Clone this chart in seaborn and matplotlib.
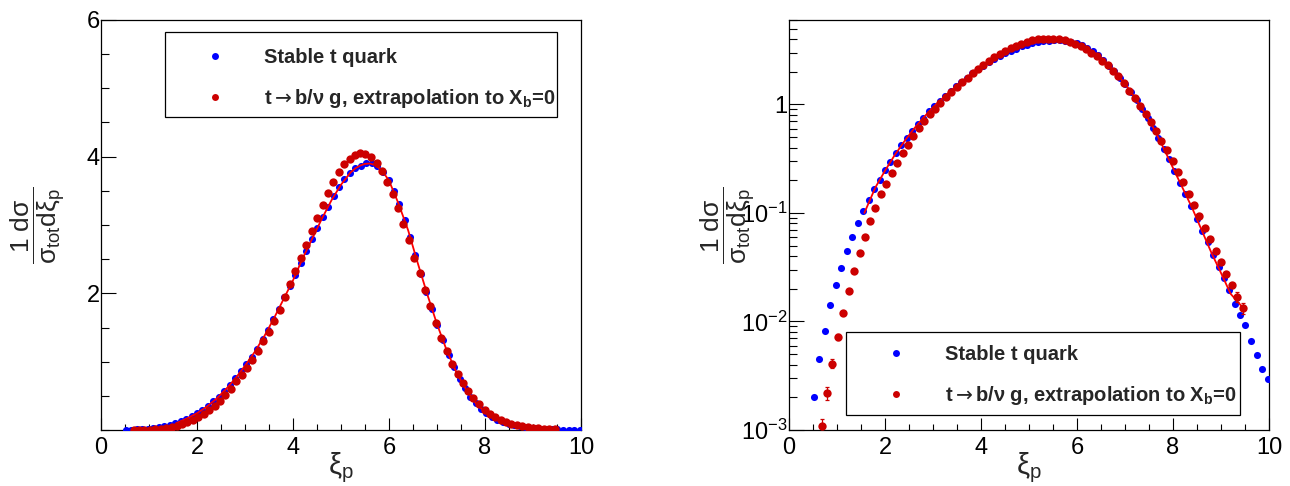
import numpy as np
import matplotlib
matplotlib.use("Agg")
import matplotlib.pyplot as plt
from matplotlib.ticker import MultipleLocator, FixedLocator, FixedFormatter, NullFormatter
from matplotlib.lines import Line2D
from matplotlib.patches import Rectangle
import seaborn as sns

# ---------------- data ----------------
stable_x = [0.52, 0.63, 0.75, 0.86, 0.98, 1.09, 1.20, 1.32, 1.43, 1.54,
            1.66, 1.77, 1.89, 2.00, 2.11, 2.23, 2.34, 2.46, 2.57, 2.68,
            2.80, 2.91, 3.03, 3.14, 3.25, 3.37, 3.48, 3.59, 3.71, 3.82,
            3.94, 4.05, 4.16, 4.28, 4.39, 4.51, 4.62, 4.73, 4.85, 4.96,
            5.07, 5.19, 5.30, 5.42, 5.53, 5.64, 5.76, 5.87, 5.99, 6.10,
            6.21, 6.33, 6.44, 6.55, 6.67, 6.78, 6.90, 7.01, 7.12, 7.24,
            7.35, 7.47, 7.58, 7.69, 7.81, 7.92, 8.03, 8.15, 8.26, 8.38,
            8.49, 8.60, 8.72, 8.83, 8.95, 9.06, 9.17, 9.29, 9.40, 9.51,
            9.63, 9.74, 9.86, 9.97]
stable_y = [0.0020, 0.0045, 0.0081, 0.0143, 0.0218, 0.0311, 0.0447, 0.0605, 0.0800, 0.1045,
            0.133, 0.167, 0.203, 0.248, 0.298, 0.354, 0.419, 0.490, 0.573, 0.660,
            0.755, 0.864, 0.96, 1.07, 1.19, 1.33, 1.47, 1.62, 1.77, 1.94,
            2.11, 2.27, 2.45, 2.62, 2.79, 2.95, 3.12, 3.27, 3.42, 3.55,
            3.67, 3.76, 3.83, 3.87, 3.90, 3.90, 3.86, 3.78, 3.66, 3.50,
            3.30, 3.08, 2.83, 2.56, 2.28, 2.02, 1.77, 1.53, 1.31, 1.10,
            0.915, 0.75, 0.61, 0.486, 0.391, 0.311, 0.243, 0.190, 0.148, 0.115,
            0.0887, 0.0688, 0.0537, 0.0413, 0.0318, 0.0251, 0.0196, 0.0145, 0.0114, 0.0092,
            0.0066, 0.00495, 0.00363, 0.00296]

extrap_x = [0.68, 0.79, 0.90, 1.02, 1.13, 1.24, 1.35, 1.47, 1.58, 1.69,
            1.80, 1.92, 2.03, 2.14, 2.25, 2.37, 2.48, 2.59, 2.70, 2.82,
            2.93, 3.04, 3.15, 3.27, 3.38, 3.49, 3.60, 3.72, 3.83, 3.94,
            4.05, 4.17, 4.28, 4.39, 4.50, 4.62, 4.73, 4.84, 4.95, 5.07,
            5.18, 5.29, 5.40, 5.51, 5.63, 5.74, 5.85, 5.96, 6.08, 6.19,
            6.30, 6.41, 6.53, 6.64, 6.75, 6.86, 6.98, 7.09, 7.20, 7.31,
            7.43, 7.54, 7.65, 7.76, 7.88, 7.99, 8.10, 8.21, 8.33, 8.44,
            8.55, 8.66, 8.78, 8.89, 9.00, 9.11, 9.23, 9.34, 9.45]
extrap_y = [0.0011, 0.0022, 0.0041, 0.0072, 0.0120, 0.0192, 0.0294, 0.0428, 0.0605, 0.0838,
            0.111, 0.148, 0.186, 0.234, 0.290, 0.354, 0.425, 0.510, 0.605, 0.710,
            0.81, 0.91, 1.03, 1.16, 1.30, 1.44, 1.60, 1.76, 1.94, 2.13,
            2.32, 2.52, 2.71, 2.91, 3.10, 3.29, 3.47, 3.63, 3.77, 3.89,
            3.97, 4.03, 4.05, 4.04, 4.00, 3.91, 3.79, 3.63, 3.46, 3.25,
            3.01, 2.78, 2.52, 2.30, 2.05, 1.81, 1.56, 1.34, 1.15, 0.97,
            0.82, 0.69, 0.57, 0.463, 0.377, 0.300, 0.241, 0.192, 0.151, 0.119,
            0.094, 0.0728, 0.0577, 0.0447, 0.0351, 0.0276, 0.0215, 0.0168, 0.0133]
extrap_err = [0.00015, 0.0003, 0.0004, 0.0005, 0.0006, 0.0, 0.0, 0.0, 0.0, 0.0,
              0.0, 0.0, 0.0, 0.0, 0.0, 0.0, 0.0, 0.0, 0.0, 0.0,
              0.0, 0.0, 0.0, 0.0, 0.0, 0.0, 0.0, 0.0, 0.0, 0.0,
              0.0, 0.0, 0.0, 0.0, 0.0, 0.0, 0.0, 0.0, 0.0, 0.0,
              0.0, 0.0, 0.0, 0.0, 0.0, 0.0, 0.0, 0.0, 0.0, 0.0,
              0.0, 0.0, 0.0, 0.0, 0.0, 0.0, 0.0, 0.0, 0.0, 0.0,
              0.0, 0.0, 0.0, 0.0, 0.0, 0.0, 0.0, 0.0, 0.0, 0.0,
              0.0, 0.0, 0.0, 0.0, 0.0, 0.0, 0.0012, 0.0018, 0.0015]

fit_x = [1.57, 1.8, 2.0, 2.2, 2.4, 2.6, 2.8, 3.0, 3.2, 3.4, 3.6, 3.8, 4.0, 4.2,
         4.4, 4.6, 4.8, 5.0, 5.2, 5.3, 5.4, 5.5, 5.6, 5.7, 5.8, 5.9, 6.0, 6.2,
         6.4, 6.6, 6.8, 7.0, 7.2, 7.4, 7.6, 7.8, 8.0, 8.2, 8.4, 8.6, 8.8, 9.0,
         9.2, 9.45]
fit_y = [0.100, 0.172, 0.245, 0.34, 0.455, 0.595, 0.755, 0.94, 1.14, 1.37, 1.63, 1.91, 2.19, 2.51,
         2.80, 3.09, 3.36, 3.59, 3.77, 3.83, 3.87, 3.895, 3.90, 3.88, 3.83, 3.75, 3.65, 3.31,
         2.92, 2.44, 1.98, 1.55, 1.17, 0.85, 0.60, 0.40, 0.26, 0.17, 0.111, 0.069, 0.043, 0.028,
         0.018, 0.0135]

label_stable = "Stable t quark"
label_extrap = "t$\\mathsf{\\rightarrow}$b/\u03bd g, extrapolation to X$_{b}$=0"
x_ticks = [0, 2, 4, 6, 8, 10]
lin_y_ticks = [2, 4, 6]
log_y_ticks = [1e-3, 1e-2, 1e-1, 1]
log_y_labels = ["$10^{-3}$", "$10^{-2}$", "$10^{-1}$", "1"]

# ---------------- style ----------------
sns.set_style("white")
plt.rcParams["font.family"] = ["Liberation Sans", "DejaVu Sans"]
plt.rcParams["mathtext.fontset"] = "custom"
plt.rcParams["mathtext.rm"] = "Liberation Sans"
plt.rcParams["mathtext.it"] = "Liberation Sans"
plt.rcParams["mathtext.bf"] = "Liberation Sans:bold"
plt.rcParams["mathtext.sf"] = "DejaVu Sans"
plt.rcParams["mathtext.default"] = "regular"

BLUE = "#0000ff"
RED = "#cc0000"
FIT = "#ff0000"

fig = plt.figure(figsize=(12.9, 4.86), dpi=100)
W, H = 1290.0, 486.0
ax1 = fig.add_axes([101 / W, 56 / H, 480 / W, 410 / H])
ax2 = fig.add_axes([789 / W, 56 / H, 480 / W, 410 / H])

for ax in (ax1, ax2):
    sns.scatterplot(x=stable_x, y=stable_y, color=BLUE, s=26, linewidth=0, ax=ax, zorder=3)
    sns.lineplot(x=fit_x, y=fit_y, color=FIT, linewidth=1.3, sort=False, estimator=None, ax=ax, zorder=4)
    ax.errorbar(extrap_x, extrap_y, yerr=extrap_err, fmt="none", ecolor=RED, elinewidth=0.9,
                capsize=1.5, capthick=0.9, zorder=4)
    sns.scatterplot(x=extrap_x, y=extrap_y, color=RED, s=36, linewidth=0, ax=ax, zorder=5)

    ax.set_xlim(0, 10)
    ax.set_xticks(x_ticks)
    ax.xaxis.set_minor_locator(MultipleLocator(0.5))
    for s in ax.spines.values():
        s.set_visible(True)
        s.set_color("black")
        s.set_linewidth(0.9)
    ax.tick_params(axis="both", which="both", direction="in", top=False, right=False,
                   bottom=True, left=True, colors="black", width=0.8, labelsize=17)
    ax.tick_params(axis="x", which="major", length=8.5, pad=5)
    ax.tick_params(axis="x", which="minor", length=4.5)
    ax.tick_params(axis="y", which="major", length=11, pad=1)
    ax.tick_params(axis="y", which="minor", length=5.5)
    ax.set_xlabel(r"$\xi_{p}$", fontsize=21)
    ax.xaxis.set_label_coords(0.5, -0.05)
    ax.set_ylabel(r"$\dfrac{1\ d\sigma}{\sigma_{tot}d\xi_{p}}$", fontsize=19)

ax1.set_ylim(0, 6)
ax1.set_yticks(lin_y_ticks)
ax1.yaxis.set_minor_locator(MultipleLocator(0.5))
ax1.yaxis.set_label_coords(-0.071, 0.5)

ax2.set_yscale("log")
ax2.set_ylim(1e-3, 6)
ax2.yaxis.set_major_locator(FixedLocator(log_y_ticks))
ax2.yaxis.set_major_formatter(FixedFormatter(log_y_labels))
ax2.yaxis.set_minor_locator(FixedLocator([m * 10.0 ** e for e in range(-3, 1) for m in range(2, 10)]))
ax2.yaxis.set_minor_formatter(NullFormatter())
ax2.yaxis.set_label_coords(-0.067, 0.5)

handles = [Line2D([], [], marker="o", ls="", color=BLUE, markersize=5, mew=0),
           Line2D([], [], marker="o", ls="", color=RED, markersize=5, mew=0)]
leg_kw = dict(loc="upper left", mode="expand", borderaxespad=0, frameon=False,
              prop={"weight": "bold", "size": 14.5},
              borderpad=0.55, labelspacing=0.98, handlelength=3.9, handletextpad=0.45)

# legend frames (box positions in axes fraction) and text blocks shifted slightly down inside them
for ax, (bx, by, bw, bh), shift in ((ax1, (0.1333, 0.7634, 0.8167, 0.2073), 0.012),
                                    (ax2, (0.11875, 0.0366, 0.8208, 0.2024), 0.005)):
    ax.add_patch(Rectangle((bx, by), bw, bh, transform=ax.transAxes, facecolor="white",
                           edgecolor="black", linewidth=0.9, zorder=6))
    leg = ax.legend(handles, [label_stable, label_extrap],
                    bbox_to_anchor=(bx, by - shift, bw, bh), **leg_kw)
    leg.set_zorder(7)

fig.savefig("out.png", dpi=100)
